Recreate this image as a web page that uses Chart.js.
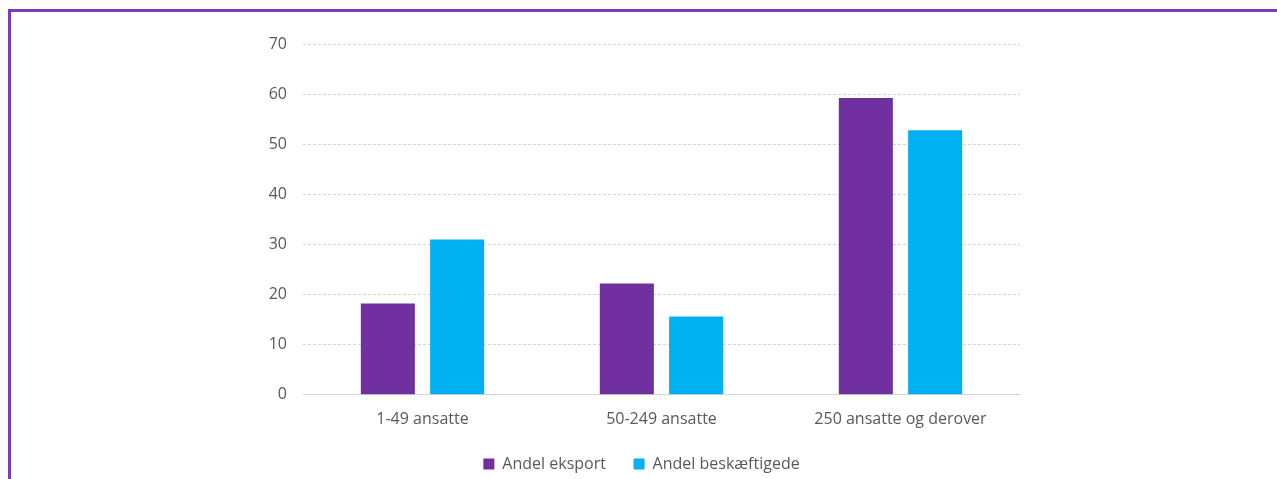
<!DOCTYPE html>
<html>
<head>
<meta charset="utf-8">
<script src="https://cdn.jsdelivr.net/npm/chart.js@4/dist/chart.umd.min.js"></script>
<style>
  html, body { margin: 0; padding: 0; background: #fff; }
  #wrap { position: relative; width: 1277px; height: 479px; overflow: hidden; }
  #frame {
    position: absolute; left: 8px; top: 9px; right: 0; bottom: 0;
    border-top: 3px solid #7a3db4; border-left: 3px solid #7a3db4;
    pointer-events: none;
  }
  canvas { position: absolute; left: 0; top: 0; }
</style>
</head>
<body>
<div id="wrap">
  <canvas id="chart" width="1277" height="479"></canvas>
  <div id="frame"></div>
</div>
<script>
const categories = ['1-49 ansatte', '50-249 ansatte', '250 ansatte og derover'];
const exportShare = [18.2, 22.2, 59.2];
const employmentShare = [31.0, 15.6, 52.8];
const yTicks = [0, 10, 20, 30, 40, 50, 60, 70];

const textColor = '#595959';
const gridColor = '#d4d4d4';
const fontFamily = '"Open Sans", "Noto Sans", sans-serif';

const ctx = document.getElementById('chart');

// nudge the legend a few pixels further down
const legendOffset = {
  id: 'legendOffset',
  afterLayout: (chart) => {
    if (chart.legend) {
      chart.legend.top += 3;
      chart.legend.bottom += 3;
    }
  },
};

new Chart(ctx, {
  type: 'bar',
  data: {
    labels: categories,
    datasets: [
      {
        label: 'Andel eksport',
        data: exportShare,
        backgroundColor: '#7030a0',
        categoryPercentage: 0.58,
        barPercentage: 0.78,
      },
      {
        label: 'Andel beskæftigede',
        data: employmentShare,
        backgroundColor: '#00b0f0',
        categoryPercentage: 0.58,
        barPercentage: 0.78,
      },
    ],
  },
  options: {
    responsive: false,
    animation: false,
    layout: { padding: { left: 263, right: 257, top: 44, bottom: 0 } },
    plugins: {
      tooltip: { enabled: false },
      legend: {
        position: 'bottom',
        labels: {
          color: textColor,
          font: { family: fontFamily, size: 16 },
          boxWidth: 11,
          boxHeight: 11,
          padding: 9,
          // wider gap between the two legend entries
          generateLabels: (chart) => {
            const items = Chart.defaults.plugins.legend.labels.generateLabels(chart);
            items.forEach((it, i) => {
              if (i < items.length - 1) it.text += '\u2003\u2009';
            });
            return items;
          },
        },
      },
    },
    scales: {
      x: {
        grid: { display: false, drawTicks: false },
        border: { display: true, color: gridColor, dash: [3, 2] },
        ticks: {
          color: textColor,
          font: { family: fontFamily, size: 16 },
          padding: 15,
        },
      },
      y: {
        min: 0,
        max: 70,
        afterBuildTicks: (scale) => {
          scale.ticks = yTicks.map((v) => ({ value: v }));
        },
        afterFit: (scale) => { scale.width = 40; },
        grid: { color: gridColor, drawTicks: false },
        border: { display: false, dash: [3, 2] },
        ticks: {
          color: textColor,
          font: { family: fontFamily, size: 16 },
          padding: 16,
        },
      },
    },
  },
  plugins: [legendOffset],
});
</script>
</body>
</html>
